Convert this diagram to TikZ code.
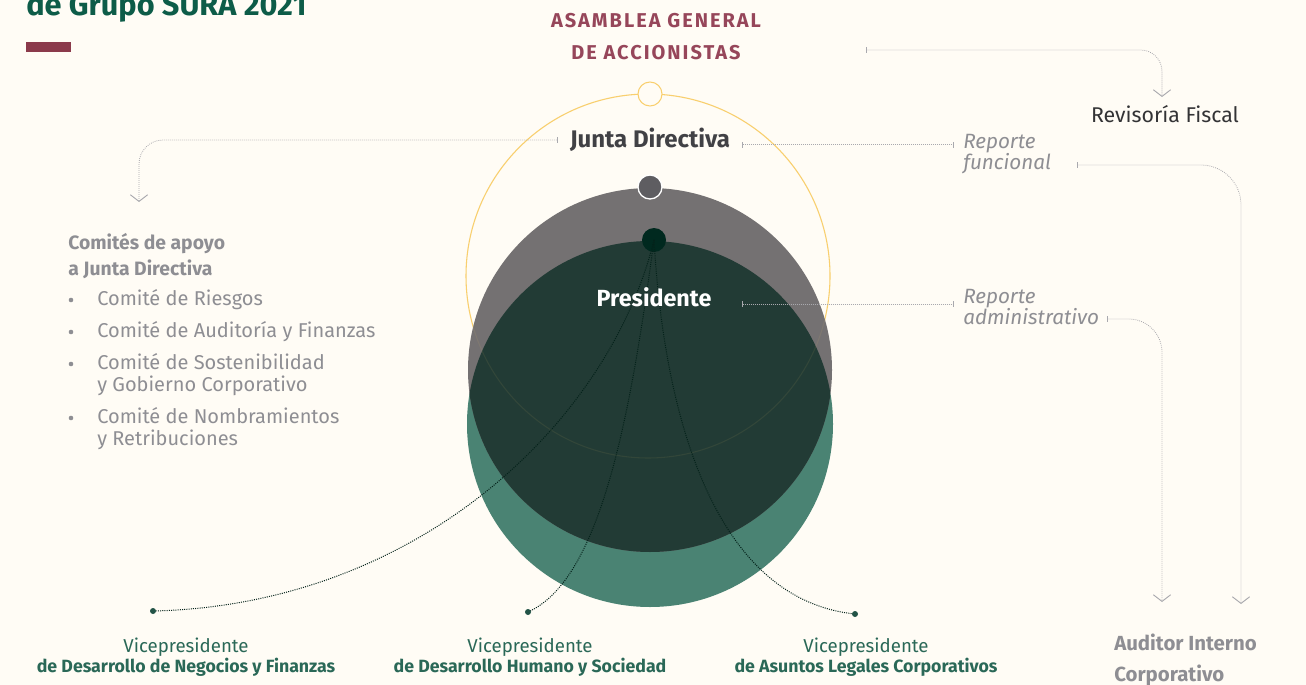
\documentclass[tikz,border=0pt]{standalone}
\usepackage{fontspec}
\setmainfont{Fira Sans}
\usetikzlibrary{arrows.meta}
\definecolor{paper}{HTML}{FFFCF5}
\definecolor{suragreen}{HTML}{0D5C48}
\definecolor{barmaroon}{HTML}{8B3A4B}
\definecolor{asmtext}{HTML}{96465A}
\definecolor{juntatext}{HTML}{414145}
\definecolor{softgray}{HTML}{8E8E93}
\definecolor{revtext}{HTML}{333335}
\definecolor{linkgray}{HTML}{A9A9AE}
\definecolor{ringyellow}{HTML}{F9CF6E}
\definecolor{juntagray}{HTML}{747172}
\definecolor{vpteal}{HTML}{4A8373}
\definecolor{overlap}{HTML}{223B35}
\definecolor{dotgray}{HTML}{5E5D61}
\definecolor{dotdark}{HTML}{00291F}
\definecolor{vpline}{HTML}{04221A}
\definecolor{vptext}{HTML}{2A6857}

\begin{document}
\begin{tikzpicture}[x=0.75pt,y=0.75pt,yscale=-1,xscale=1,
  link/.style={draw=linkgray,line width=0.6pt,dash pattern=on 0.6pt off 0.9pt},
  tickboth/.style={{Bar[width=4pt,line width=0.5pt]}-{Bar[width=4pt,line width=0.5pt]}},
  tickdown/.style={{Bar[width=4pt,line width=0.5pt]}-{Straight Barb[length=5pt,width=13pt,line width=0.7pt]}},
  vpcurve/.style={draw=vpline,line width=0.75pt,dash pattern=on 0.75pt off 0.9pt},
  report/.style={anchor=west,align=left,inner xsep=6.75pt,inner ysep=0pt,text=softgray,font=\fontsize{15.5}{16}\selectfont\itshape},
  item/.style={anchor=west,align=left,inner sep=0pt,text=softgray,font=\fontsize{15}{16.5}\selectfont},
  vp/.style={align=center,text=vptext,font=\fontsize{14}{15}\selectfont},
  bigdot/.style={circle,minimum size=18pt,inner sep=0pt}
]
\useasboundingbox[fill=paper] (0,0) rectangle (1306,685);

% title
\node[anchor=base west,inner sep=0pt,text=suragreen,font=\fontsize{23}{26}\selectfont\bfseries] (title) at (26,16) {de Grupo SURA 2021};
\fill[barmaroon] (26,42) rectangle (71,52);

\node[align=center,text=asmtext,font=\fontsize{15}{24}\selectfont\bfseries\addfontfeatures{LetterSpace=10}] (asamblea) at (656,37) {ASAMBLEA GENERAL\\DE ACCIONISTAS};

% circles
\draw[ringyellow,line width=0.8pt] (648,276) circle [radius=182];
\fill[vpteal] (650,424) circle [radius=183];
\fill[juntagray] (650,370) circle [radius=182];
\begin{scope}
\clip (650,370) circle [radius=182];
\fill[overlap] (650,424) circle [radius=183];
\end{scope}
\draw[ringyellow,line width=0.8pt,opacity=0.08] (648,276) circle [radius=182];

\node[bigdot,draw=ringyellow,fill=paper,line width=0.8pt] (asmDot) at (650,94) {};
\node[bigdot,draw=white,fill=dotgray,line width=1pt] (juntaDot) at (650,187) {};
\node[bigdot,fill=dotdark] (presDot) at (654,240) {};

% vicepresidents
\coordinate (vpNegEnd) at (153,611);
\coordinate (vpHumEnd) at (528,612);
\coordinate (vpLegEnd) at (855,614);
\draw[vpcurve] (presDot.center) .. controls (610,420) and (420,605) .. (vpNegEnd);
\draw[vpcurve] (presDot.center) .. controls (630,420) and (600,580) .. (vpHumEnd);
\draw[vpcurve] (presDot.center) .. controls (665,430) and (720,600) .. (vpLegEnd);
\foreach \p in {vpNegEnd,vpHumEnd,vpLegEnd}
  \fill[vptext!80!black] (\p) circle [radius=3];

\node[vp] (vpNeg) at (186,657) {Vicepresidente\\{\fontsize{13.3}{15}\selectfont\bfseries de Desarrollo de Negocios y Finanzas}};
\node[vp] (vpHum) at (530,657) {Vicepresidente\\{\fontsize{13.3}{15}\selectfont\bfseries de Desarrollo Humano y Sociedad}};
\node[vp] (vpLeg) at (866,657) {Vicepresidente\\{\fontsize{13.3}{15}\selectfont\bfseries de Asuntos Legales Corporativos}};

% governance
\node[text=juntatext,font=\fontsize{18}{20}\selectfont\bfseries,inner xsep=9pt] (junta) at (650,140) {Junta Directiva};
\node[text=white,font=\fontsize{17.5}{20}\selectfont\bfseries] (pres) at (654,297) {Presidente};
\node[text=revtext,font=\fontsize{16}{18}\selectfont] (revisoria) at (1165,114) {Revisoría Fiscal};
\node[report] (repF) at (954,154) {Reporte\\funcional};
\node[report] (repA) at (954,307) {Reporte\\administrativo};
\node[anchor=west,align=left,inner sep=0pt,text=softgray,font=\fontsize{15.3}{23}\selectfont\bfseries] (auditor) at (1114,660) {Auditor Interno\\Corporativo};

% committees
\node[anchor=west,align=left,inner sep=0pt,text=softgray,font=\fontsize{14.5}{19}\selectfont\bfseries] (comites) at (68,256) {Comités de apoyo\\a Junta Directiva};
\foreach \y in {300,332,364,418}
  \fill[softgray] (71,\y) circle [radius=2.3];
\node[item] (riesgos) at (97,300) {Comité de Riesgos};
\node[item] (auditoria) at (97,332) {Comité de Auditoría y Finanzas};
\node[item] (sostenib) at (97,375) {Comité de Sostenibilidad\\y Gobierno Corporativo};
\node[item] (nombram) at (97,429) {Comité de Nombramientos\\y Retribuciones};

% reporting lines
\coordinate (asmTick) at (866,50);
\coordinate (revIn) at (1162,97);
\coordinate (comIn) at (139,202);
\coordinate (presTick) at (742,304);
\coordinate (repFout) at (1077,165);
\coordinate (repAout) at (1107,319);
\coordinate (audL) at (1162,602);
\coordinate (audR) at (1241,604);

\draw[link,tickdown,rounded corners=16] (asmTick) -| (revIn);
\draw[link,tickdown,rounded corners=18] (junta.west) -| (comIn);
\draw[link,tickboth] (junta.-3) -- (junta.-3 -| repF.west);
\draw[link,tickboth] (presTick) -- (presTick -| repA.west);
\draw[link,tickdown,rounded corners=30] (repFout) -| (audR);
\draw[link,tickdown,rounded corners=25] (repAout) -| (audL);

\end{tikzpicture}
\end{document}
